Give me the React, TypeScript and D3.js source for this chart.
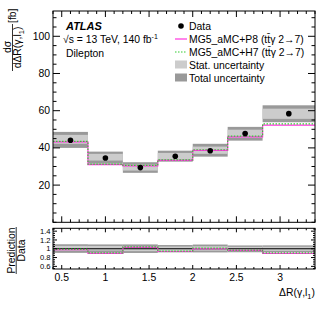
import * as d3 from "d3";
import React from "react";

// bin edges in ΔR(γ,l1)
const edges = [0.4, 0.8, 1.2, 1.6, 2.0, 2.4, 2.8, 3.4];
// measured cross-section [fb] and its uncertainty envelopes
const data = [44.1, 34.6, 29.4, 35.5, 38.5, 47.7, 58.4];
const totalUp = [48.6, 38.0, 32.3, 38.5, 42.2, 51.3, 62.9];
const totalDn = [40.0, 31.5, 26.6, 32.6, 35.3, 43.9, 53.8];
const statUp = [47.0, 36.8, 31.0, 37.3, 40.7, 49.8, 61.1];
const statDn = [42.2, 33.2, 27.8, 33.7, 36.8, 45.4, 55.6];
// predictions
const predP8 = [43.2, 31.0, 30.3, 33.3, 38.7, 45.9, 52.2];
const predH7 = [43.5, 31.3, 30.6, 33.6, 39.0, 46.3, 52.9];

const xMajor = [0.5, 1, 1.5, 2, 2.5, 3];
const yMajor = [20, 40, 60, 80, 100];
const rMajor = [0.6, 0.8, 1, 1.2, 1.4];

const FONT = "'Liberation Sans', Arial, Helvetica, sans-serif";
const STAT = "#cccccc";
const TOTAL = "#999999";
const PINK = "#ff33dd";
const GREEN = "#33cc33";

const W = 332;
const H = 319;
const L = 53, R = 315;
const mainTop = 11, mainBot = 222.3;
const ratTop = 228.3, ratBot = 269;

const x = d3.scaleLinear().domain([0.4, 3.4]).range([L, R]);
const y = d3.scaleLinear().domain([0, 113.6]).range([mainBot, mainTop]);
const yr = d3.scaleLinear().domain([0.54, 1.465]).range([ratBot, ratTop]);

const bins = data.map((v, i) => ({
  lo: edges[i],
  hi: edges[i + 1],
  v,
  tu: totalUp[i],
  td: totalDn[i],
  su: statUp[i],
  sd: statDn[i],
  p8: predP8[i],
  h7: predH7[i],
}));

const step = (vals: number[], ys: d3.ScaleLinear<number, number>) =>
  d3
    .line<number>()
    .x((_, i) => x(edges[i]))
    .y((d) => ys(d))
    .curve(d3.curveStepAfter)([...vals, vals[vals.length - 1]]) || "";

const range = (a: number, b: number, s: number) => {
  const out: number[] = [];
  for (let k = 0; a + k * s <= b + 1e-9; k++) out.push(+(a + k * s).toFixed(4));
  return out;
};

const Frame = ({ top, bot, ys, yMin, yMaj, xTickLen, yTickLen }: any) => {
  const xMinor = range(0.4, 3.4, 0.1);
  const ticks: JSX.Element[] = [];
  xMinor.forEach((t, i) => {
    const major = xMajor.some((m) => Math.abs(m - t) < 1e-6);
    const len = major ? xTickLen : xTickLen / 2;
    ticks.push(<line key={"xb" + i} x1={x(t)} x2={x(t)} y1={bot} y2={bot - len} />);
    ticks.push(<line key={"xt" + i} x1={x(t)} x2={x(t)} y1={top} y2={top + len} />);
  });
  yMin.forEach((t: number, i: number) => {
    const major = yMaj.some((m: number) => Math.abs(m - t) < 1e-6);
    const len = major ? yTickLen : yTickLen / 2;
    const py = ys(t);
    if (py < top - 0.1 || py > bot + 0.1) return;
    ticks.push(<line key={"yl" + i} x1={L} x2={L + len} y1={py} y2={py} />);
    ticks.push(<line key={"yr" + i} x1={R} x2={R - len} y1={py} y2={py} />);
  });
  return (
    <g stroke="#000" strokeWidth={1} fill="none">
      <rect x={L} y={top} width={R - L} height={bot - top} />
      {ticks}
    </g>
  );
};

export default function App() {
  return (
    <svg width={W} height={H} style={{ display: "block", position: "absolute", left: 0, top: 0 }} fontFamily={FONT}>
      <rect width={W} height={H} fill="#fff" />

      {/* main panel bands */}
      {bins.map((b, i) => (
        <g key={"b" + i}>
          <rect x={x(b.lo)} width={x(b.hi) - x(b.lo)} y={y(b.tu)} height={y(b.td) - y(b.tu)} fill={TOTAL} />
          <rect x={x(b.lo)} width={x(b.hi) - x(b.lo)} y={y(b.su)} height={y(b.sd) - y(b.su)} fill={STAT} />
        </g>
      ))}
      <path d={step(predP8, y)} fill="none" stroke={PINK} strokeWidth={1.2} />
      <path d={step(predH7, y)} fill="none" stroke={GREEN} strokeWidth={1.2} strokeDasharray="1.5,1.5" />
      {bins.map((b, i) => (
        <circle key={"d" + i} cx={x((b.lo + b.hi) / 2)} cy={y(b.v)} r={2.8} fill="#000" />
      ))}
      <Frame top={mainTop} bot={mainBot} ys={y} yMin={range(0, 110, 5)} yMaj={yMajor} xTickLen={6} yTickLen={7} />
      {yMajor.map((t) => (
        <text key={"yl" + t} x={L - 3} y={y(t) + 3.6} fontSize={10.4} textAnchor="end">
          {t}
        </text>
      ))}

      {/* ratio panel */}
      {bins.map((b, i) => (
        <g key={"rb" + i}>
          <rect x={x(b.lo)} width={x(b.hi) - x(b.lo)} y={yr(b.tu / b.v)} height={yr(b.td / b.v) - yr(b.tu / b.v)} fill={TOTAL} />
          <rect x={x(b.lo)} width={x(b.hi) - x(b.lo)} y={yr(b.su / b.v)} height={yr(b.sd / b.v) - yr(b.su / b.v)} fill={STAT} />
        </g>
      ))}
      <line x1={L} x2={R} y1={yr(1)} y2={yr(1)} stroke="#000" strokeWidth={1.2} />
      <path d={step(predP8.map((p, i) => p / data[i]), yr)} fill="none" stroke={PINK} strokeWidth={1.2} />
      <path d={step(predH7.map((p, i) => p / data[i]), yr)} fill="none" stroke={GREEN} strokeWidth={1.2} strokeDasharray="1.5,1.5" />
      <Frame top={ratTop} bot={ratBot} ys={yr} yMin={range(0.55, 1.45, 0.05)} yMaj={rMajor} xTickLen={4} yTickLen={4} />
      {rMajor.map((t) => (
        <text key={"rl" + t} x={L - 2.5} y={yr(t) + 2.7} fontSize={7.6} textAnchor="end">
          {String(t)}
        </text>
      ))}
      {xMajor.map((t) => (
        <text key={"xl" + t} x={x(t)} y={280.5} fontSize={10.4} textAnchor="middle">
          {String(t)}
        </text>
      ))}

      {/* x axis title */}
      <text x={R} y={296} fontSize={10.4} textAnchor="end">
        ΔR(γ,l<tspan fontSize={7.5} dy={3}>1</tspan>
        <tspan dy={-3}>)</tspan>
      </text>

      {/* main y title */}
      <g transform="rotate(-90)" fontSize={10.4}>
        <text x={-47} y={10.5} textAnchor="middle">dσ</text>
        <line x1={-71} x2={-24} y1={12.5} y2={12.5} stroke="#000" strokeWidth={0.8} />
        <text x={-47.5} y={21} textAnchor="middle">
          dΔR(γ,l<tspan fontSize={7.5} dy={2.5}>1</tspan>
          <tspan dy={-2.5}>)</tspan>
        </text>
        <text x={-23} y={16} textAnchor="start">[fb]</text>
      </g>

      {/* ratio y title */}
      <g transform="rotate(-90)" fontSize={10.4}>
        <text x={-250.5} y={14.5} textAnchor="middle">Prediction</text>
        <line x1={-274} x2={-227} y1={16.2} y2={16.2} stroke="#000" strokeWidth={0.8} />
        <text x={-250.5} y={25} textAnchor="middle">Data</text>
      </g>

      {/* labels */}
      <text x={66} y={29.5} fontSize={11} fontWeight="bold" fontStyle="italic">ATLAS</text>
      <text x={63} y={43} fontSize={10.4}>
        √s = 13 TeV, 140 fb<tspan fontSize={7} dy={-4}>-1</tspan>
      </text>
      <text x={66} y={56.5} fontSize={10.4}>Dilepton</text>

      {/* legend */}
      <g fontSize={10.4}>
        <circle cx={181} cy={26} r={2.8} fill="#000" />
        <text x={189} y={29.5}>Data</text>
        <line x1={175} x2={187} y1={39} y2={39} stroke={PINK} strokeWidth={1.2} />
        <text x={189} y={42.5}>MG5_aMC+P8 (tt̄γ 2→7)</text>
        <line x1={175} x2={187} y1={52} y2={52} stroke={GREEN} strokeWidth={1.2} strokeDasharray="1.5,1.5" />
        <text x={189} y={55.5}>MG5_aMC+H7 (tt̄γ 2→7)</text>
        <rect x={175} y={60.5} width={12} height={8} fill={STAT} />
        <text x={189} y={68.5}>Stat. uncertainty</text>
        <rect x={175} y={73.5} width={12} height={8} fill={TOTAL} />
        <text x={189} y={81.5}>Total uncertainty</text>
      </g>
    </svg>
  );
}
